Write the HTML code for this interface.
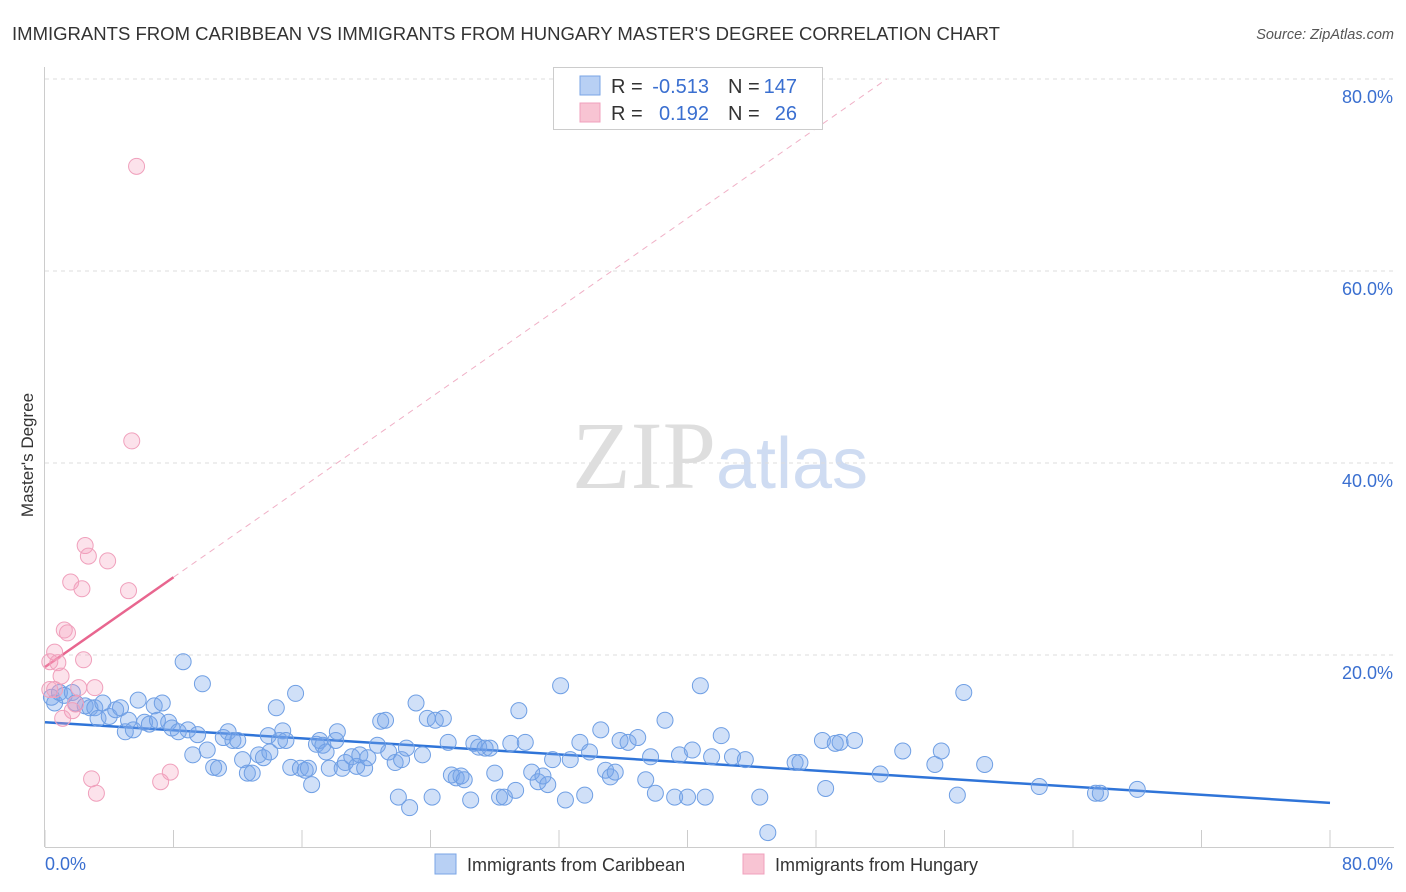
<!DOCTYPE html>
<html><head><meta charset="utf-8">
<style>
body{margin:0;background:#fff;font-family:"Liberation Sans",sans-serif;}
svg{display:block}
</style></head>
<body>
<svg id="chart" width="1406" height="892" viewBox="0 0 1406 892" xmlns="http://www.w3.org/2000/svg">
<text x="12" y="40" font-size="18" fill="#333" textLength="988" lengthAdjust="spacingAndGlyphs">IMMIGRANTS FROM CARIBBEAN VS IMMIGRANTS FROM HUNGARY MASTER'S DEGREE CORRELATION CHART</text>
<text x="1394" y="39" font-size="14.5" fill="#555" font-style="italic" text-anchor="end">Source: ZipAtlas.com</text>
<text x="720" y="488" font-size="96" text-anchor="middle" font-family="Liberation Serif,serif"><tspan fill="#dedede">ZIP</tspan><tspan fill="#cfdcf2" font-family="Liberation Sans,sans-serif" font-size="72">atlas</tspan></text>
<text transform="translate(33,455) rotate(-90)" font-size="17" fill="#333" text-anchor="middle">Master's Degree</text>
<g id="grid"></g><g id="axes"></g><g id="trend"></g><g id="pts"></g>
<g>
<rect x="553.5" y="67.5" width="269" height="62" fill="#fff" stroke="#ccc"/>
<rect x="580" y="76" width="20" height="19" fill="#b8d0f4" stroke="#7aa5e6"/>
<rect x="580" y="103" width="20" height="19" fill="#f8c4d3" stroke="#f0a0bc"/>
<text x="611" y="93" font-size="20" fill="#333">R =</text>
<text x="709" y="93" font-size="20" fill="#3a6fd0" text-anchor="end">-0.513</text>
<text x="728" y="93" font-size="20" fill="#333">N =</text>
<text x="797" y="93" font-size="20" fill="#3a6fd0" text-anchor="end">147</text>
<text x="611" y="120" font-size="20" fill="#333">R =</text>
<text x="709" y="120" font-size="20" fill="#3a6fd0" text-anchor="end">0.192</text>
<text x="728" y="120" font-size="20" fill="#333">N =</text>
<text x="797" y="120" font-size="20" fill="#3a6fd0" text-anchor="end">26</text>
</g>
<g>
<rect x="435" y="854" width="21" height="20" fill="#b8d0f4" stroke="#7aa5e6"/>
<text x="467" y="871" font-size="18" fill="#333">Immigrants from Caribbean</text>
<rect x="743" y="854" width="21" height="20" fill="#f8c4d3" stroke="#f0a0bc"/>
<text x="775" y="871" font-size="18" fill="#333">Immigrants from Hungary</text>
</g>
</svg>
<script>
const blueX=[0.4,0.6,0.9,1.2,1.7,1.9,2.5,2.8,3.1,3.3,3.6,4.0,4.4,4.7,5.0,5.2,5.5,5.8,6.2,6.5,6.8,7.0,7.3,7.7,7.9,8.3,8.6,8.9,9.2,9.5,9.8,10.1,10.5,10.8,11.1,11.4,11.7,12.0,12.3,12.6,12.9,13.3,13.6,13.9,14.0,14.4,14.6,14.8,15.0,15.3,15.6,15.9,16.2,16.4,16.6,16.9,17.1,17.3,17.5,17.7,18.1,18.2,18.5,18.7,19.1,19.4,19.6,19.9,20.1,20.7,20.9,21.2,21.4,21.8,22.0,22.2,22.5,22.7,23.1,23.5,23.8,24.1,24.3,24.8,25.1,25.3,25.6,25.9,26.1,26.5,26.7,27.0,27.4,27.7,28.0,28.3,28.6,29.0,29.3,29.5,29.9,30.3,30.7,31.0,31.3,31.6,32.1,32.4,32.7,33.3,33.6,33.9,34.6,34.9,35.2,35.5,35.8,36.3,36.9,37.4,37.7,38.0,38.6,39.2,39.5,40.0,40.3,40.8,41.1,41.5,42.1,42.8,43.6,44.5,45.0,46.7,47.0,48.4,48.6,49.2,49.5,50.4,52.0,53.4,55.4,55.8,56.8,57.2,58.5,61.9,65.4,65.7,68.0];
const blueY=[15.6,15.0,16.1,15.8,16.1,15.0,14.7,14.5,14.5,13.4,15.0,13.6,14.3,14.5,12.0,13.2,12.2,15.3,13.0,12.8,14.7,13.2,15.0,13.0,12.4,12.0,19.3,12.2,9.6,11.7,17.0,10.1,8.3,8.2,11.4,12.0,11.1,11.1,9.1,7.7,7.7,9.6,9.3,11.6,9.9,14.5,11.1,12.1,11.1,8.3,16.0,8.2,8.0,8.2,6.5,10.7,11.1,10.6,9.9,8.2,11.1,12.0,8.2,8.8,9.4,8.4,9.6,8.2,9.3,10.6,13.1,13.2,9.9,8.8,5.2,9.1,10.3,4.1,15.0,9.6,13.4,5.2,13.2,13.4,10.9,7.5,7.2,7.4,7.0,4.9,10.8,10.4,10.3,10.3,7.7,5.2,5.2,10.8,5.9,14.2,10.9,7.8,6.8,7.4,6.5,9.1,16.8,4.9,9.1,10.9,5.4,9.9,12.2,8.0,7.3,7.8,11.1,10.9,11.4,7.0,9.4,5.6,13.2,5.2,9.6,5.2,10.1,16.8,5.2,9.4,11.6,9.4,9.1,5.2,1.5,8.8,8.8,11.1,6.1,10.8,10.9,11.1,7.6,10.0,8.6,10.0,5.4,16.1,8.6,6.3,5.6,5.6,6.0];
const pinkX=[5.7,5.4,2.5,2.7,3.9,1.6,2.3,5.2,1.2,1.4,0.6,2.4,0.3,0.8,1.0,2.1,3.1,0.3,1.9,1.7,1.1,2.9,3.2,7.2,7.8,0.6];
const pinkY=[70.9,42.3,31.4,30.3,29.8,27.6,26.9,26.7,22.6,22.3,20.3,19.5,19.3,19.2,17.8,16.6,16.6,16.4,14.9,14.2,13.4,7.1,5.6,6.8,7.8,16.4];
const blueTrend=[[0,13.0],[80,4.6]];
const pinkTrend=[[0,18.75],[8,28.1]];
const yTicks=[20,40,60,80];
const yTickLabels=["20.0%","40.0%","60.0%","80.0%"];
const xTicks=[0,8,16,24,32,40,48,56,64,72,80];

const NS="http://www.w3.org/2000/svg";
const X=v=>45+v*(1330-45)/80;
const Y=v=>847-v*9.6;
function mk(tag,attrs,parent){const e=document.createElementNS(NS,tag);for(const k in attrs)e.setAttribute(k,attrs[k]);document.getElementById(parent).appendChild(e);return e;}
yTicks.forEach((t,i)=>{
  const l=mk('line',{x1:45,x2:1394,y1:Y(t),y2:Y(t),stroke:'#ddd','stroke-dasharray':'4,4'},'grid');
  
  
  const tx=mk('text',{x:1393,y:Y(t)+24,'font-size':18,fill:'#3a6fd0','text-anchor':'end'},'grid');
  tx.textContent=yTickLabels[i];
  
  
});
const xa=mk('line',{x1:45,x2:1394,y1:847.5,y2:847.5,stroke:'#ccc'},'axes');


const ya=mk('line',{x1:44.5,x2:44.5,y1:67,y2:847,stroke:'#ccc'},'axes');


xTicks.forEach(t=>{
  const l=mk('line',{x1:X(t),x2:X(t),y1:830,y2:847,stroke:'#ccc'},'axes');
  
  
});
const xl0=mk('text',{x:45,y:870,'font-size':18,fill:'#3a6fd0'},'axes');xl0.textContent=xTicks[0].toFixed(1)+'%';


const xl1=mk('text',{x:1393,y:870,'font-size':18,fill:'#3a6fd0','text-anchor':'end'},'axes');xl1.textContent=xTicks[xTicks.length-1].toFixed(1)+'%';


blueX.forEach((v,i)=>{
  const c=mk('circle',{cx:X(v),cy:Y(blueY[i]),r:8,fill:'rgba(120,165,235,0.35)',stroke:'#6f9fe4','stroke-width':1},'pts');
  
  
});
pinkX.forEach((v,i)=>{
  const c=mk('circle',{cx:X(v),cy:Y(pinkY[i]),r:8,fill:'rgba(245,160,190,0.3)',stroke:'#f0a0bc','stroke-width':1},'pts');
  
  
});
const bt=mk('line',{x1:X(blueTrend[0][0]),y1:Y(blueTrend[0][1]),x2:X(blueTrend[1][0]),y2:Y(blueTrend[1][1]),stroke:'#2f74d8','stroke-width':2.5},'trend');


const slope=(pinkTrend[1][1]-pinkTrend[0][1])/(pinkTrend[1][0]-pinkTrend[0][0]);
const xEnd=(80-pinkTrend[0][1])/slope;
const pd=mk('line',{x1:X(pinkTrend[1][0]),y1:Y(pinkTrend[1][1]),x2:X(xEnd),y2:Y(80),stroke:'#f0b0c6','stroke-width':1,'stroke-dasharray':'6,5'},'trend');


const pt=mk('line',{x1:X(pinkTrend[0][0]),y1:Y(pinkTrend[0][1]),x2:X(pinkTrend[1][0]),y2:Y(pinkTrend[1][1]),stroke:'#e8668f','stroke-width':2.5},'trend');


</script>
</body></html>
